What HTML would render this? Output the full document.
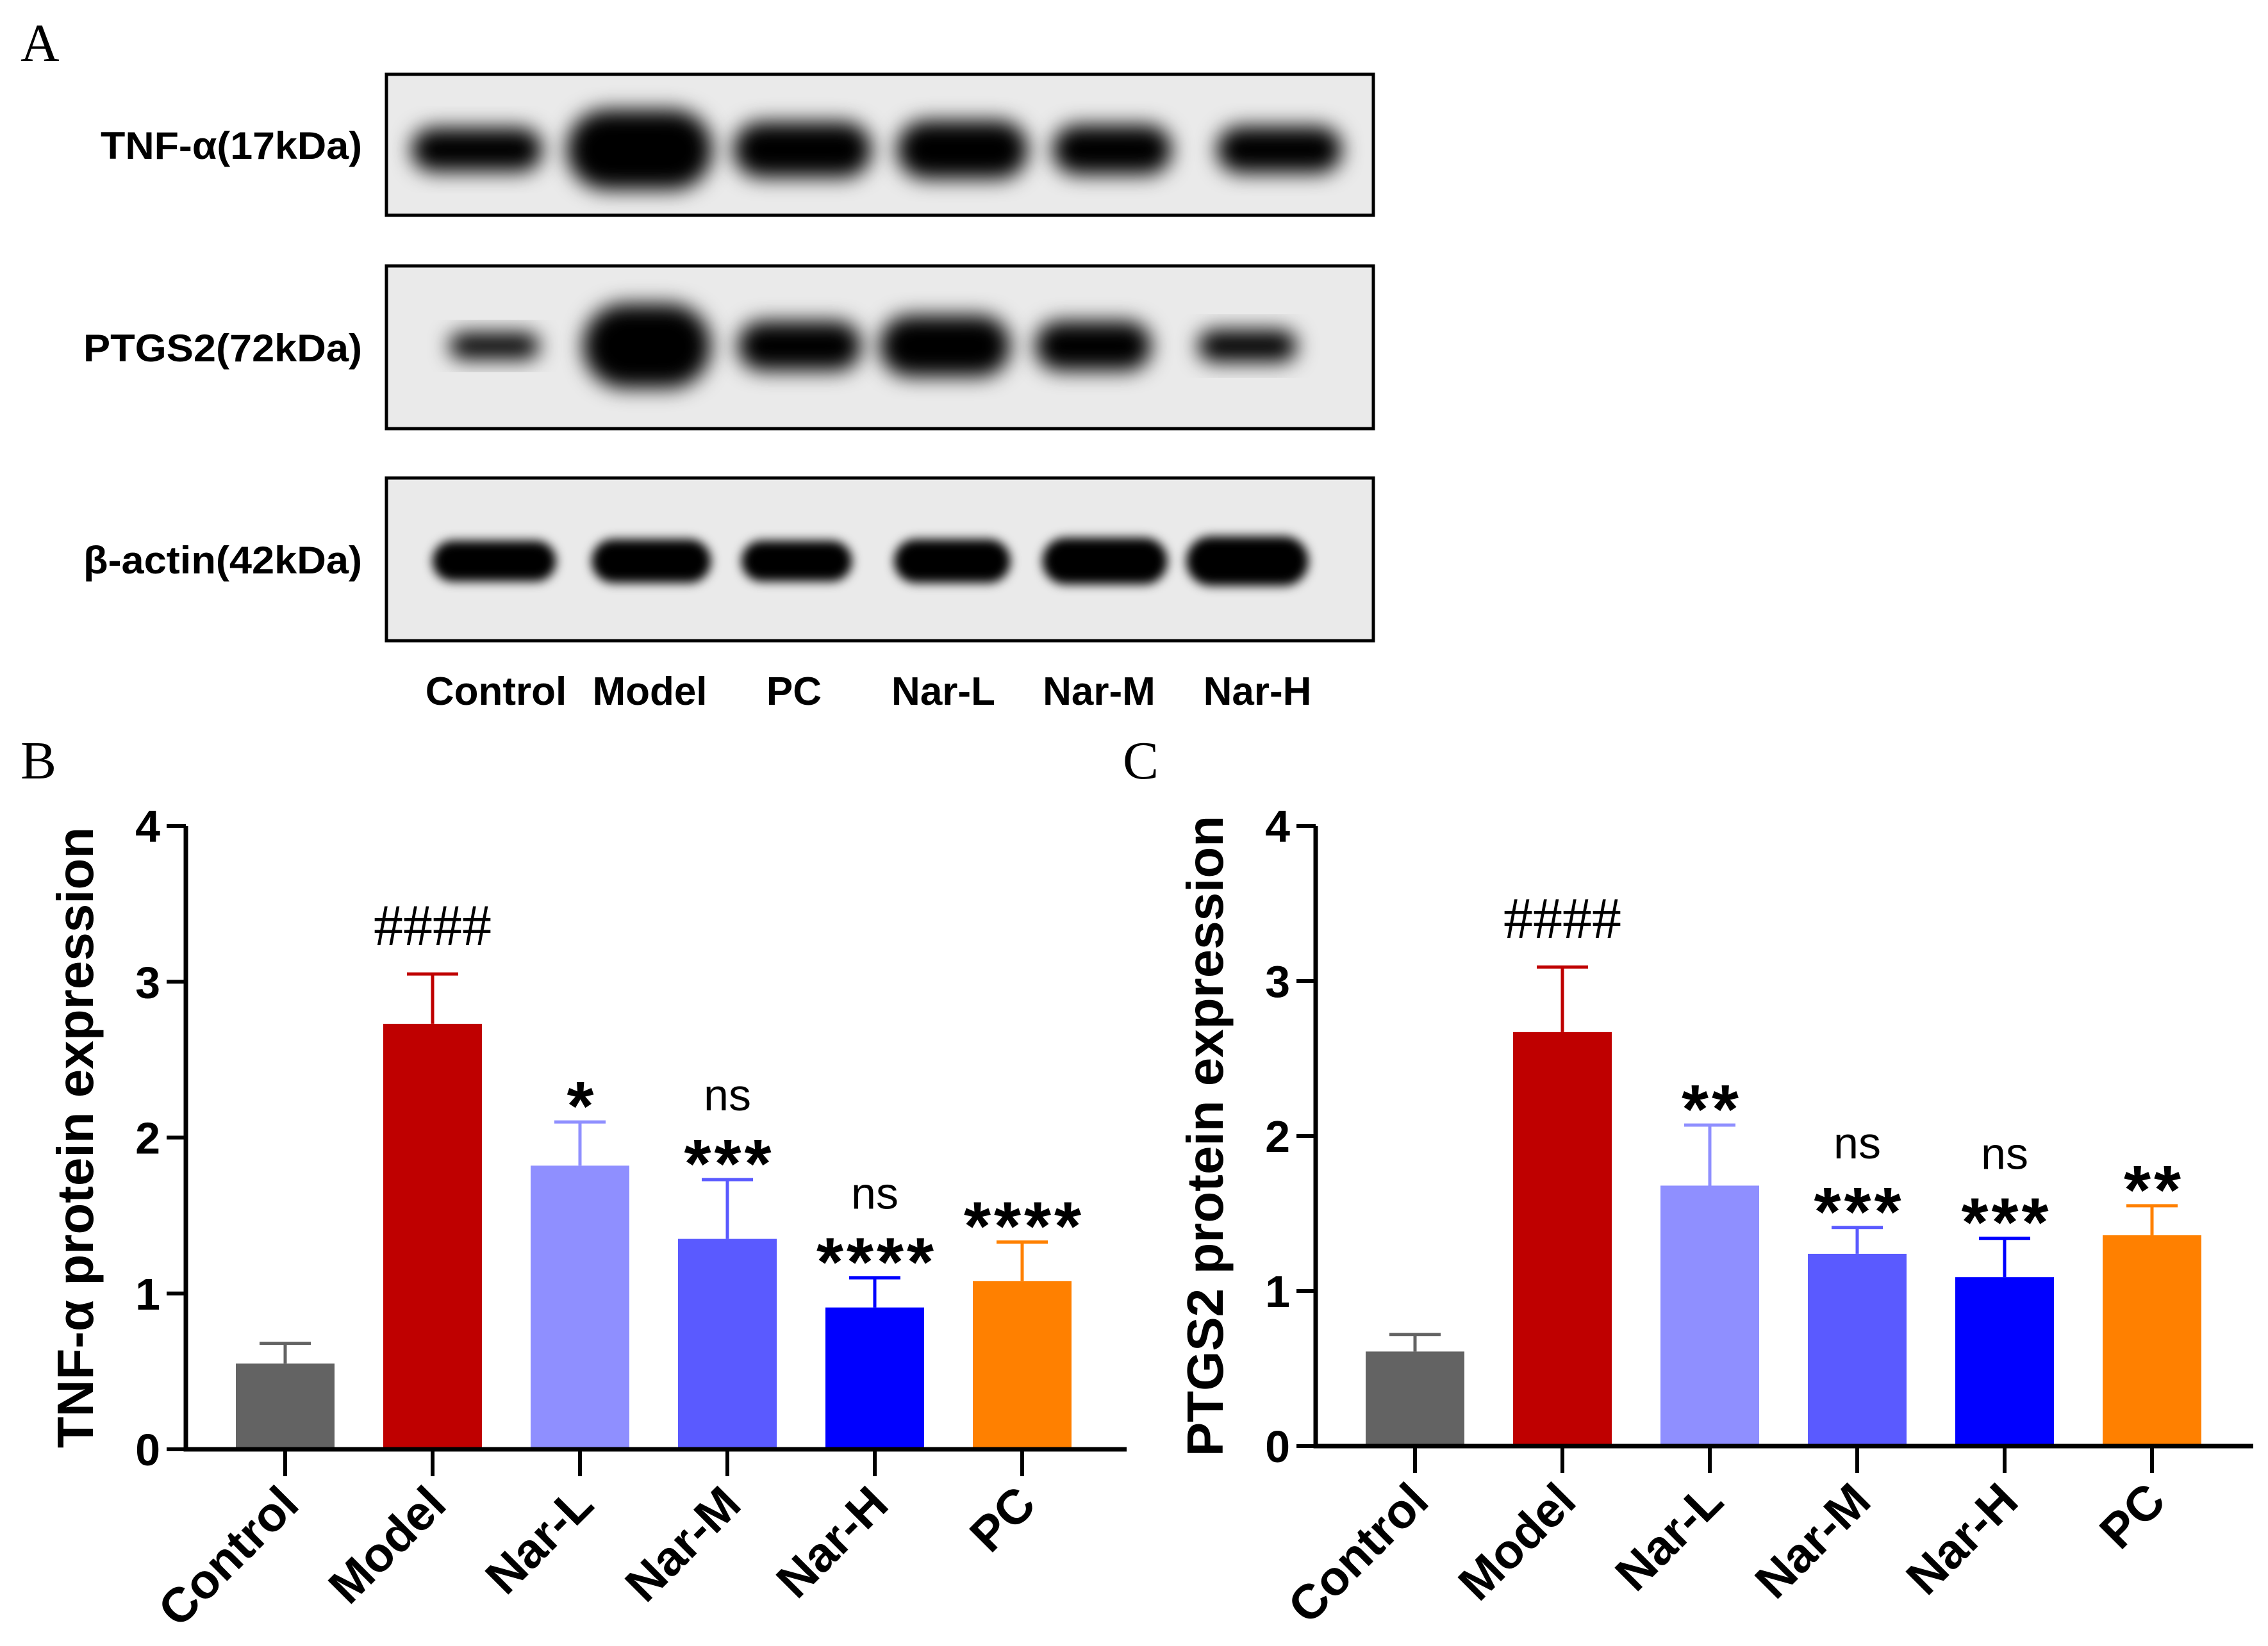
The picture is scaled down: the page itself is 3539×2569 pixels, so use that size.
<!DOCTYPE html>
<html><head><meta charset="utf-8"><style>
html,body{margin:0;padding:0;background:#fff}
svg{display:block}
text{font-family:"Liberation Sans",Arial,sans-serif}
</style></head><body>
<svg id="fig" width="3539" height="2569" viewBox="0 0 3539 2569" xmlns="http://www.w3.org/2000/svg">
<defs>
<filter id="blur1" x="-50%" y="-50%" width="200%" height="200%"><feGaussianBlur stdDeviation="16"/></filter>
<filter id="blur2" x="-50%" y="-50%" width="200%" height="200%"><feGaussianBlur stdDeviation="8"/></filter>
</defs>
<text x="32" y="95" font-size="84" style="font-family:'Liberation Serif',serif">A</text>
<text x="32" y="1215" font-size="84" style="font-family:'Liberation Serif',serif">B</text>
<text x="1752" y="1215" font-size="84" style="font-family:'Liberation Serif',serif">C</text>
<g id="blot"></g>
<g id="chartB"></g>
<g id="chartC"></g>
</svg>
<script>
const NS="http://www.w3.org/2000/svg";
function mk(p,tag,attrs,txt){const e=document.createElementNS(NS,tag);for(const k in attrs)e.setAttribute(k,attrs[k]);if(txt!==undefined)e.textContent=txt;p.appendChild(e);return e;}

// ---- Blot ----
const blotRows=["TNF-α(17kDa)","PTGS2(72kDa)","β-actin(42kDa)"];
const blotLanes=["Control","Model","PC","Nar-L","Nar-M","Nar-H"];
const bandWidths=[[90,100,95,90,82,86],[62,88,85,90,80,68],[85,82,76,80,86,84]];
const bandHeights=[[30,55,38,40,34,32],[18,58,34,42,34,22],[28,30,28,30,32,34]];
const laneCenters=[[328,440,552,662,765,880],[340,445,550,650,752,858],[340,448,548,655,760,858]];
const blot=document.getElementById('blot');
const S=2.2686;
const boxes=[[116,336],[415,669],[746,1000]];
const rowCy=[103,238,386];
boxes.forEach((b,r)=>{
  const g=mk(blot,'g',{});
  
  
  mk(g,'rect',{x:603,y:b[0],width:1540,height:b[1]-b[0],fill:'#eaeaea',stroke:'#000','stroke-width':5});
  laneCenters[r].forEach((cx,i)=>{
    const w=bandWidths[r][i]*S, h=bandHeights[r][i]*S;
    const el=mk(g,'rect',{x:cx*S-w/2,y:rowCy[r]*S-h/2,width:w,height:h,rx:h/2,fill:'#000',filter:r==2?'url(#blur2)':'url(#blur1)'});
    
    
  });
  const t=mk(g,'text',{x:565,y:(b[0]+b[1])/2+22,'text-anchor':'end','font-size':60,'font-weight':'bold',textLength:r==0?408:435,lengthAdjust:'spacingAndGlyphs'},blotRows[r]);
  
  
});
const laneLabelX=[774,1014,1239,1472,1715,1962];
blotLanes.forEach((l,i)=>{
  const t=mk(blot,'text',{x:laneLabelX[i],y:1100,'text-anchor':'middle','font-size':62,'font-weight':'bold'},l);
  
  
});

// ---- Charts ----
const categories=["Control","Model","Nar-L","Nar-M","Nar-H","PC"];
const colors=["#636363","#bf0000","#8f8fff","#5a5aff","#0000ff","#ff8000"];
const tnfValues=[0.55,2.73,1.82,1.35,0.91,1.08];
const tnfErrors=[0.13,0.32,0.28,0.38,0.19,0.25];
const tnfSig=["","####","*","***","****","****"];
const tnfNs=["","","","ns","ns",""];
const ptgsValues=[0.61,2.67,1.68,1.24,1.09,1.36];
const ptgsErrors=[0.11,0.42,0.39,0.17,0.25,0.19];
const ptgsSig=["","####","**","***","***","**"];
const ptgsNs=["","","","ns","ns",""];
const yTicks=[0,1,2,3,4];

function chart(id,x0,xEnd,yTop,yBot,vals,errs,sig,ns,title){
  const g=document.getElementById(id);
  const y=v=>yBot-(v/4)*(yBot-yTop);
  const cx=i=>x0+155+i*230;
  const bw=154;
  vals.forEach((v,i)=>{
    const ey=y(v+errs[i]);
    const eb=mk(g,'path',{d:`M${cx(i)} ${y(v)}V${ey}M${cx(i)-40} ${ey}H${cx(i)+40}`,stroke:colors[i],'stroke-width':5,fill:'none'});
    
    
    const r=mk(g,'rect',{x:cx(i)-bw/2,y:y(v),width:bw,height:yBot-y(v),fill:colors[i]});
    
    
    if(sig[i]){
      const hash=sig[i][0]=='#';
      let t;
      if(hash){
        t=mk(g,'text',{x:cx(i),y:ey-45,'text-anchor':'middle','font-size':92,style:"font-family:'Liberation Serif',serif"},sig[i]);
      } else {
        t=mk(g,'text',{x:cx(i)+3,y:ey+12,'text-anchor':'middle','font-size':108,'font-weight':'bold','letter-spacing':'5'},sig[i]);
      }
      
      
      if(ns[i]){
        const n=mk(g,'text',{x:cx(i),y:ey-108,'text-anchor':'middle','font-size':70},ns[i]);
        
        
      }
    }
    const tk=mk(g,'line',{x1:cx(i),x2:cx(i),y1:yBot,y2:yBot+42,stroke:'#000','stroke-width':6});
    
    
    const lx=cx(i)+25, ly=yBot+90;
    const lt=mk(g,'text',{x:lx,y:ly,'text-anchor':'end','font-size':76,'font-weight':'bold',transform:`rotate(-45 ${lx} ${ly})`},categories[i]);
    
    
  });
  const ax=mk(g,'path',{d:`M${x0} ${yTop}V${yBot}H${xEnd}`,stroke:'#000','stroke-width':7,fill:'none'});
  
  
  yTicks.forEach(t=>{
    const l=mk(g,'line',{x1:x0-30,x2:x0,y1:y(t),y2:y(t),stroke:'#000','stroke-width':6});
    
    
    const tx=mk(g,'text',{x:x0-40,y:y(t)+25,'text-anchor':'end','font-size':70,'font-weight':'bold'},t);
    
    
  });
  const tt=mk(g,'text',{x:0,y:0,'text-anchor':'middle','font-size':80,'font-weight':'bold',transform:`translate(${x0-145} ${(yTop+yBot)/2}) rotate(-90)`},title);
  
  
}
chart('chartB',290,1758,1289,2262,tnfValues,tnfErrors,tnfSig,tnfNs,'TNF-α protein expression');
chart('chartC',2053,3516,1289,2257,ptgsValues,ptgsErrors,ptgsSig,ptgsNs,'PTGS2 protein expression');
</script>
</body></html>
